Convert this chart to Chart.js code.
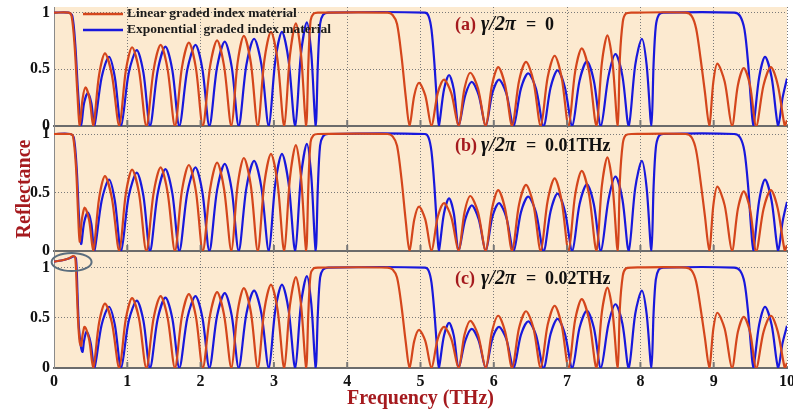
<!DOCTYPE html>
<html>
<head>
<meta charset="utf-8">
<title>Reflectance spectra</title>
<script src="https://cdn.jsdelivr.net/npm/chart.js@4.4.0/dist/chart.umd.min.js"></script>
<style>
  html, body { margin: 0; padding: 0; background: #fff; }
  #wrap { position: relative; width: 793px; height: 411px; overflow: hidden; }
  canvas { position: absolute; left: 0; }
</style>
</head>
<body>
<div id="wrap">
  <canvas id="panelA" width="793" height="140" style="top:0px"></canvas>
  <canvas id="panelB" width="793" height="140" style="top:120px"></canvas>
  <canvas id="panelC" width="793" height="166" style="top:245px"></canvas>
</div>
<script>
// frequency (THz), reflectance pairs
const freqTicks = [0, 1, 2, 3, 4, 5, 6, 7, 8, 9, 10];
const reflTicks = [0, 0.5, 1];
const seriesNames = ['Linear graded index material', 'Exponential  graded index material'];
const panelTags = ['(a)', '(b)', '(c)'];
const panelGamma = ['0', '0.01THz', '0.02THz'];

// low-frequency part differs with damping
const redHeadA = [[0,1],[0.2,1],[0.24,0.97],[0.28,0.72],[0.32,0.28],[0.35,0],[0.39,0.24],[0.43,0.34],[0.485,0.24],[0.535,0]];
const redHeadB = [[0,1],[0.22,1],[0.26,0.98],[0.30,0.72],[0.33,0.3],[0.35,0.08],[0.38,0.27],[0.42,0.37],[0.48,0.26],[0.535,0]];
const redHeadC = [[0,1.06],[0.1,1.07],[0.2,1.09],[0.26,1.115],[0.29,1.1],[0.31,0.8],[0.33,0.45],[0.35,0.26],[0.37,0.22],[0.39,0.33],[0.42,0.41],[0.48,0.28],[0.535,0]];
const blueHeadA = [[0,1],[0.2,1],[0.25,0.97],[0.29,0.72],[0.33,0.28],[0.37,0],[0.41,0.2],[0.46,0.29],[0.51,0.2],[0.55,0]];
const blueHeadB = [[0,1],[0.22,1],[0.27,0.97],[0.31,0.7],[0.34,0.3],[0.37,0.06],[0.41,0.24],[0.46,0.33],[0.51,0.23],[0.55,0]];
const blueHeadC = [[0,1.06],[0.1,1.07],[0.2,1.09],[0.27,1.11],[0.30,1.09],[0.32,0.75],[0.34,0.4],[0.37,0.2],[0.39,0.16],[0.41,0.27],[0.445,0.36],[0.5,0.25],[0.55,0]];

// linear graded index
const redBody = [
  [0.615,0.45],[0.695,0.64],[0.79,0.45],[0.89,0],
  [0.98,0.49],[1.065,0.695],[1.16,0.49],[1.26,0],
  [1.36,0.5],[1.455,0.715],[1.55,0.5],[1.65,0],
  [1.745,0.515],[1.84,0.735],[1.935,0.515],[2.03,0],
  [2.13,0.53],[2.225,0.755],[2.32,0.53],[2.42,0],
  [2.505,0.56],[2.59,0.795],[2.685,0.56],[2.78,0],
  [2.87,0.58],[2.96,0.83],[3.05,0.58],[3.14,0],
  [3.22,0.63],[3.30,0.905],[3.37,0.63],[3.44,0],
  [3.47,0.55],[3.50,0.93],[3.54,0.99],[3.60,1],
  [4.55,1],[4.62,0.98],[4.68,0.9],[4.74,0.62],[4.80,0.25],[4.85,0],
  [4.915,0.27],[4.98,0.38],[5.065,0.27],[5.15,0],
  [5.235,0.29],[5.32,0.41],[5.42,0.29],[5.52,0],
  [5.60,0.33],[5.68,0.47],[5.785,0.33],[5.89,0],
  [5.975,0.36],[6.06,0.52],[6.155,0.36],[6.25,0],
  [6.345,0.4],[6.44,0.565],[6.54,0.4],[6.64,0],
  [6.735,0.43],[6.83,0.62],[6.925,0.43],[7.02,0],
  [7.11,0.48],[7.20,0.685],[7.30,0.48],[7.40,0],
  [7.475,0.56],[7.55,0.80],[7.62,0.56],[7.69,0],
  [7.72,0.6],[7.76,0.92],[7.80,0.99],[7.88,1],
  [8.62,1],[8.70,0.97],[8.76,0.86],[8.82,0.6],[8.88,0.3],[8.94,0],
  [8.995,0.39],[9.05,0.55],[9.15,0.39],[9.25,0],
  [9.33,0.36],[9.41,0.51],[9.495,0.36],[9.58,0],
  [9.68,0.36],[9.78,0.52],[9.875,0.36],[9.97,0],
  [10,0.05]
];

// exponential graded index
const blueBody = [
  [0.65,0.43],[0.75,0.61],[0.83,0.43],[0.915,0],
  [1.02,0.47],[1.13,0.67],[1.22,0.47],[1.31,0],
  [1.415,0.49],[1.52,0.70],[1.615,0.49],[1.71,0],
  [1.82,0.5],[1.93,0.715],[2.025,0.5],[2.12,0],
  [2.225,0.52],[2.33,0.745],[2.425,0.52],[2.52,0],
  [2.625,0.54],[2.73,0.77],[2.83,0.54],[2.93,0],
  [3.02,0.58],[3.11,0.83],[3.20,0.58],[3.29,0],
  [3.37,0.64],[3.45,0.915],[3.51,0.64],[3.57,0],
  [3.60,0.55],[3.63,0.9],[3.67,0.98],[3.74,1],
  [5.06,1],[5.11,0.97],[5.15,0.85],[5.19,0.55],[5.23,0.15],[5.25,0],
  [5.32,0.32],[5.39,0.45],[5.455,0.32],[5.52,0],
  [5.61,0.27],[5.70,0.39],[5.795,0.27],[5.89,0],
  [5.98,0.29],[6.07,0.41],[6.17,0.29],[6.27,0],
  [6.37,0.33],[6.47,0.465],[6.575,0.33],[6.68,0],
  [6.775,0.34],[6.87,0.49],[6.97,0.34],[7.07,0],
  [7.17,0.4],[7.27,0.57],[7.365,0.4],[7.46,0],
  [7.565,0.44],[7.66,0.635],[7.755,0.44],[7.84,0],
  [7.93,0.54],[8.02,0.77],[8.085,0.54],[8.15,0],
  [8.18,0.55],[8.21,0.88],[8.25,0.98],[8.31,1],
  [9.28,1],[9.36,0.97],[9.42,0.85],[9.47,0.55],[9.51,0.2],[9.54,0],
  [9.62,0.43],[9.70,0.61],[9.79,0.43],[9.88,0],
  [9.94,0.25],[10,0.42]
];

const serif = "'Liberation Serif', 'Times New Roman', serif";
const beige = '#FCEAD0';
const redLine = '#D4461C';
const blueLine = '#1818DC';
const darkRed = '#A51A1E';
const captionDy = [18, 19, 27];

function pts(arr) {
  return arr.map(p => ({ x: p[0], y: p[1] }));
}

function panelDecor(idx) {
  return {
    id: 'panelDecor',
    beforeDraw(chart) {
      const { ctx, chartArea: a } = chart;
      ctx.save();
      ctx.fillStyle = beige;
      ctx.fillRect(a.left, a.top, a.right - a.left, a.bottom - a.top);
      ctx.restore();
    },
    afterDraw(chart) {
      const { ctx, chartArea: a, scales } = chart;
      ctx.save();

      // short inward ticks along the frequency axis
      ctx.strokeStyle = '#777';
      ctx.lineWidth = 2;
      freqTicks.slice(1, -1).forEach(v => {
        const x = scales.x.getPixelForValue(v);
        ctx.beginPath();
        ctx.moveTo(x, a.bottom);
        ctx.lineTo(x, a.bottom - 6);
        ctx.stroke();
      });

      // panel caption
      const cx = a.left + 401;
      const cy = a.top + captionDy[idx];
      ctx.textBaseline = 'middle';
      ctx.textAlign = 'left';
      ctx.font = 'bold 18px ' + serif;
      ctx.fillStyle = darkRed;
      ctx.fillText(panelTags[idx], cx, cy);
      ctx.fillStyle = '#101010';
      ctx.font = 'italic bold 20px ' + serif;
      ctx.fillText('γ/2π', cx + 26, cy);
      ctx.font = 'bold 18px ' + serif;
      ctx.fillText('=', cx + 71, cy);
      ctx.fillText(panelGamma[idx], cx + 90, cy);

      if (idx === 0) {
        ctx.font = 'bold 13.5px ' + serif;
        chart.data.datasets.forEach((ds, i) => {
          const y = a.top + 7 + 16 * i;
          ctx.strokeStyle = ds.borderColor;
          ctx.lineWidth = 2.5;
          ctx.beginPath();
          ctx.moveTo(a.left + 29, y);
          ctx.lineTo(a.left + 69, y);
          ctx.stroke();
          ctx.fillStyle = '#1a1a1a';
          ctx.fillText(ds.label, a.left + 73, y);
        });
      }

      if (idx === 2) {
        // mark the overshoot above unity
        ctx.strokeStyle = '#5B6E7E';
        ctx.lineWidth = 2;
        ctx.beginPath();
        ctx.ellipse(scales.x.getPixelForValue(0.24), scales.y.getPixelForValue(1.056), 20, 9, 0, 0, Math.PI * 2);
        ctx.stroke();
      }
      ctx.restore();
    }
  };
}

function makePanel(canvasId, idx, red, blue, yMax, padding) {
  const bottom = idx === 2;
  const tickFont = { family: serif, size: 16, weight: 'bold' };
  const titleFont = { family: serif, size: 20, weight: 'bold' };

  return new Chart(document.getElementById(canvasId), {
    type: 'line',
    data: {
      datasets: [
        { label: seriesNames[0], data: pts(red), borderColor: redLine, borderWidth: 2.2,
          pointRadius: 0, tension: 0.3, fill: false },
        { label: seriesNames[1], data: pts(blue), borderColor: blueLine, borderWidth: 2.2,
          pointRadius: 0, tension: 0.3, fill: false }
      ]
    },
    options: {
      responsive: false,
      animation: false,
      layout: { padding: padding },
      plugins: { legend: { display: false }, tooltip: { enabled: false } },
      scales: {
        x: {
          type: 'linear', min: 0, max: 10,
          afterBuildTicks: s => { s.ticks = freqTicks.map(v => ({ value: v })); },
          grid: { color: '#7a7a7a', lineWidth: 1, drawTicks: false },
          border: { color: '#6b6b6b', width: 2, dash: [1, 2] },
          ticks: { display: bottom, padding: 4, color: '#111', font: tickFont },
          title: { display: bottom, text: 'Frequency (THz)', color: darkRed, font: titleFont,
                   padding: { top: 0, bottom: 0 } },
          afterFit: s => {
            s.height = bottom ? 43 : 0;
            s.paddingLeft = 0;
            s.paddingRight = 0;
          }
        },
        y: {
          type: 'linear', min: 0, max: yMax,
          afterBuildTicks: s => { s.ticks = reflTicks.map(v => ({ value: v })); },
          grid: { color: '#7a7a7a', lineWidth: 1, drawTicks: false },
          border: { color: '#8a8a8a', width: 1, dash: [1, 2] },
          ticks: { padding: 4, color: '#111', font: tickFont,
                   callback: v => (v === 0.5 ? '0.5' : String(v)) },
          title: { display: idx === 1, text: 'Reflectance', color: darkRed, font: titleFont,
                   padding: { top: 13, bottom: 0 } },
          afterFit: s => {
            s.width = 54;
            s.paddingTop = 0;
            s.paddingBottom = 0;
          }
        }
      }
    },
    plugins: [panelDecor(idx)]
  });
}

makePanel('panelA', 0, redHeadA.concat(redBody), blueHeadA.concat(blueBody), 1.05,
  { top: 7, bottom: 14, left: 0, right: 6 });
makePanel('panelB', 1, redHeadB.concat(redBody), blueHeadB.concat(blueBody), 1.06,
  { top: 7, bottom: 9, left: 0, right: 6 });
makePanel('panelC', 2, redHeadC.concat(redBody), blueHeadC.concat(blueBody), 1.155,
  { top: 7, bottom: 0, left: 0, right: 6 });
</script>
</body>
</html>
